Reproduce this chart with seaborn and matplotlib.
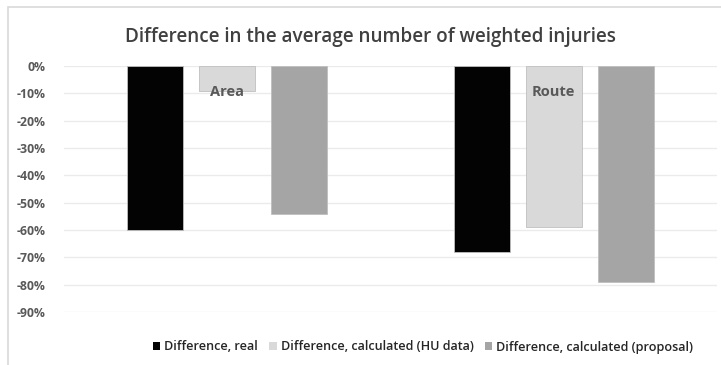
import matplotlib
matplotlib.use("Agg")
import matplotlib.pyplot as plt
import seaborn as sns
import pandas as pd
from matplotlib.patches import Rectangle

# Data
categories = ["Area", "Route"]
series = ["Difference, real", "Difference, calculated (HU data)", "Difference, calculated (proposal)"]
real = [-0.60, -0.68]
calc_hu = [-0.09, -0.59]
calc_proposal = [-0.54, -0.79]
tick_values = [0, -0.1, -0.2, -0.3, -0.4, -0.5, -0.6, -0.7, -0.8, -0.9]
tick_labels = ["0%", "-10%", "-20%", "-30%", "-40%", "-50%", "-60%", "-70%", "-80%", "-90%"]

colors = ["#030303", "#d9d9d9", "#a5a5a5"]

rows = []
for s, vals in zip(series, [real, calc_hu, calc_proposal]):
    for c, v in zip(categories, vals):
        rows.append({"category": c, "series": s, "value": v})
df = pd.DataFrame(rows)

sns.set_theme(style="white")
plt.rcParams["font.family"] = ["Open Sans", "DejaVu Sans"]

W, H = 721, 365
fig = plt.figure(figsize=(W / 100, H / 100), dpi=100)
ax = fig.add_axes([64 / W, 1 - 312 / H, (717 - 64) / W, (312 - 66) / H])

sns.barplot(data=df, x="category", y="value", hue="series", palette=colors,
            width=0.662, gap=0.222, ax=ax, legend=False,
            edgecolor="#bfbfbf", linewidth=0.6, zorder=3)

ax.set_ylim(-0.9, 0)
ax.set_xlim(-0.5, 1.5)
ax.set_yticks(tick_values)
ax.set_yticklabels(tick_labels, fontsize=8.8, color="#595959", fontweight="bold")
ax.tick_params(axis="y", length=0, pad=13)
ax.set_xticks([])
ax.set_xlabel("")
ax.set_ylabel("")
for sp in ax.spines.values():
    sp.set_visible(False)
ax.grid(axis="y", color="#ebebeb", linewidth=1, zorder=0)
ax.set_axisbelow(True)

# category names drawn inside the plot, below the zero line
for i, c in enumerate(categories):
    ax.text(i, -0.095, c, ha="center", va="center", fontsize=10.5,
            color="#595959", fontweight="bold", zorder=5)

fig.text(370 / W, 1 - 37 / H, "Difference in the average number of weighted injuries",
         ha="center", va="center", fontsize=13.55, color="#404040", fontweight=600)

# legend
handles = [Rectangle((0, 0), 1, 1, facecolor=col, edgecolor="none") for col in colors]
fig.legend(handles, series, loc="center", bbox_to_anchor=(423 / W, 1 - 347 / H),
           ncol=3, frameon=False, handlelength=0.6, handleheight=0.6,
           handletextpad=0.3, columnspacing=0.9, labelcolor="#262626",
           prop={"size": 9.1, "weight": 600})

# chart frame
fig.patches.append(Rectangle((8 / W, -0.1), 1.1, 1 - 7 / H + 0.1, transform=fig.transFigure,
                             fill=False, edgecolor="#d9d9d9", linewidth=1.2))

fig.savefig("out.png", dpi=100)
